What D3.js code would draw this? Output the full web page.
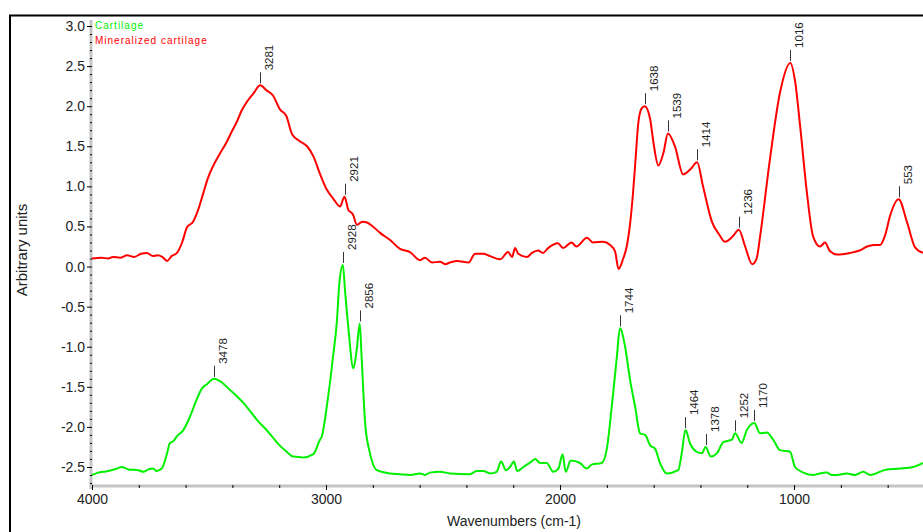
<!DOCTYPE html>
<html>
<head>
<meta charset="utf-8">
<script src="https://cdn.jsdelivr.net/npm/d3@7"></script>
<style>
  html, body { margin: 0; padding: 0; background: #fff; }
  svg { display: block; font-family: Arial, "Liberation Sans", sans-serif; }
</style>
</head>
<body>
<div id="chart"></div>
<script>
// Mineralized cartilage spectrum (wavenumber, arbitrary units)
const mineralized = [
  [4000,0.10],[3960,0.11],[3930,0.10],[3910,0.12],[3880,0.11],[3850,0.14],[3820,0.12],[3790,0.16],
  [3765,0.17],[3740,0.13],[3720,0.14],[3700,0.12],[3679,0.07],[3660,0.13],[3637,0.17],[3615,0.30],
  [3594,0.49],[3568,0.56],[3545,0.72],[3526,0.90],[3505,1.10],[3483,1.25],[3455,1.40],[3425,1.55],
  [3400,1.70],[3382,1.80],[3360,1.95],[3339,2.05],[3310,2.16],[3281,2.26],[3255,2.20],[3226,2.13],
  [3197,1.96],[3170,1.88],[3145,1.65],[3110,1.56],[3081,1.50],[3055,1.38],[3025,1.15],[2997,0.96],
  [2970,0.85],[2940,0.75],[2921,0.87],[2905,0.71],[2885,0.65],[2868,0.52],[2845,0.56],[2825,0.55],
  [2800,0.50],[2769,0.42],[2726,0.33],[2684,0.22],[2641,0.18],[2598,0.08],[2577,0.11],[2547,0.05],
  [2513,0.06],[2491,0.03],[2470,0.05],[2440,0.07],[2391,0.05],[2363,0.16],[2329,0.16],[2299,0.13],
  [2256,0.09],[2222,0.18],[2205,0.12],[2192,0.23],[2179,0.16],[2141,0.12],[2120,0.17],[2094,0.20],
  [2073,0.17],[2051,0.23],[2009,0.29],[1987,0.23],[1951,0.30],[1930,0.25],[1885,0.36],[1859,0.30],
  [1816,0.31],[1786,0.27],[1765,0.19],[1750,-0.03],[1730,0.10],[1715,0.25],[1700,0.55],[1688,0.92],
  [1677,1.35],[1667,1.75],[1652,1.97],[1638,2.00],[1615,1.84],[1601,1.55],[1580,1.26],[1558,1.42],
  [1539,1.66],[1509,1.50],[1474,1.15],[1444,1.21],[1414,1.30],[1389,1.00],[1350,0.55],[1320,0.40],
  [1295,0.31],[1261,0.38],[1236,0.46],[1209,0.25],[1179,0.03],[1160,0.10],[1145,0.38],[1103,1.34],
  [1060,2.17],[1016,2.54],[995,2.30],[974,1.75],[945,0.92],[919,0.38],[889,0.25],[868,0.30],
  [846,0.19],[816,0.15],[761,0.17],[720,0.20],[688,0.25],[660,0.27],[632,0.27],[610,0.40],
  [590,0.63],[553,0.84],[517,0.55],[483,0.24],[449,0.17]
];

// Cartilage spectrum
const cartilage = [
  [4000,-2.60],[3973,-2.57],[3950,-2.56],[3930,-2.55],[3894,-2.52],[3873,-2.50],[3845,-2.53],[3802,-2.54],
  [3781,-2.56],[3759,-2.53],[3738,-2.52],[3724,-2.55],[3702,-2.52],[3681,-2.35],[3667,-2.20],[3653,-2.18],
  [3638,-2.12],[3610,-2.04],[3581,-1.87],[3553,-1.66],[3530,-1.52],[3510,-1.47],[3478,-1.40],[3453,-1.43],
  [3410,-1.54],[3380,-1.62],[3353,-1.70],[3325,-1.80],[3296,-1.91],[3260,-2.02],[3225,-2.14],[3195,-2.24],
  [3168,-2.31],[3140,-2.37],[3097,-2.38],[3054,-2.34],[3026,-2.16],[3018,-2.12],[2997,-1.75],[2969,-1.10],
  [2954,-0.70],[2943,-0.21],[2928,0.02],[2919,-0.29],[2905,-0.75],[2883,-1.27],[2869,-1.04],[2856,-0.71],
  [2848,-1.12],[2833,-1.95],[2812,-2.33],[2783,-2.54],[2726,-2.58],[2684,-2.59],[2641,-2.60],[2598,-2.58],
  [2577,-2.60],[2556,-2.57],[2513,-2.56],[2470,-2.58],[2385,-2.59],[2356,-2.55],[2328,-2.55],[2299,-2.58],
  [2271,-2.56],[2252,-2.43],[2231,-2.54],[2214,-2.50],[2197,-2.43],[2183,-2.55],[2157,-2.50],[2121,-2.43],
  [2107,-2.40],[2085,-2.45],[2057,-2.45],[2029,-2.56],[2007,-2.52],[1989,-2.34],[1976,-2.56],[1954,-2.42],
  [1915,-2.45],[1886,-2.52],[1865,-2.47],[1822,-2.45],[1801,-2.29],[1779,-1.75],[1757,-1.12],[1744,-0.77],
  [1722,-1.00],[1701,-1.41],[1679,-1.75],[1658,-2.08],[1636,-2.10],[1615,-2.23],[1594,-2.27],[1573,-2.45],
  [1544,-2.58],[1495,-2.54],[1480,-2.33],[1464,-2.04],[1444,-2.21],[1416,-2.31],[1394,-2.33],[1378,-2.25],
  [1356,-2.37],[1330,-2.33],[1302,-2.19],[1266,-2.16],[1252,-2.08],[1224,-2.20],[1202,-2.04],[1170,-1.95],
  [1145,-2.08],[1117,-2.07],[1089,-2.16],[1060,-2.29],[1017,-2.31],[996,-2.50],[960,-2.57],[917,-2.60],
  [890,-2.58],[860,-2.57],[840,-2.60],[818,-2.60],[775,-2.58],[740,-2.60],[704,-2.56],[675,-2.60],
  [604,-2.53],[547,-2.52],[490,-2.50],[449,-2.45]
];

// labelled peaks (wavenumber)
const mineralizedPeaks = [3281, 2921, 1638, 1539, 1414, 1236, 1016, 553];
const cartilagePeaks = [3478, 2928, 2856, 1744, 1464, 1378, 1252, 1170];

const xTicks = [4000, 3000, 2000, 1000];
const yTicks = [-2.5, -2.0, -1.5, -1.0, -0.5, 0.0, 0.5, 1.0, 1.5, 2.0, 2.5, 3.0];

const W = 923, H = 532;
const svg = d3.select("#chart").append("svg")
    .attr("width", W)
    .attr("height", H);

const x = d3.scaleLinear().domain([4000, 449]).range([92, 923]);
const y = d3.scaleLinear().domain([-2.5, 3.0]).range([467, 26]);
const axisY = 486;

// outer frame (only top and left are visible)
svg.append("path")
    .attr("d", `M10,${H} V15.5 H${W}`)
    .attr("fill", "none")
    .attr("stroke", "#000")
    .attr("stroke-width", 2);

// gray axis bands
svg.append("line")
    .attr("x1", 91).attr("x2", 91).attr("y1", 20).attr("y2", axisY + 3)
    .attr("stroke", "#c4c4c4").attr("stroke-width", 3);
svg.append("line")
    .attr("x1", 90).attr("x2", W).attr("y1", axisY).attr("y2", axisY)
    .attr("stroke", "#c4c4c4").attr("stroke-width", 3);

// y minor ticks
const yMinor = d3.range(-27, 31).map(d => d / 10).filter(d => Math.abs(d * 2 - Math.round(d * 2)) > 0.01);
svg.append("g")
    .attr("transform", "translate(92,0)")
    .call(d3.axisLeft(y).tickValues(yMinor).tickSize(2).tickFormat(""))
    .call(g => g.select(".domain").remove())
    .call(g => g.selectAll("line").attr("stroke", "#000"));

// y major ticks
svg.append("g")
    .attr("transform", "translate(92,0)")
    .call(d3.axisLeft(y).tickValues(yTicks).tickSize(5).tickPadding(2).tickFormat(d => d.toFixed(1)))
    .call(g => g.select(".domain").remove())
    .call(g => g.selectAll("line").attr("stroke", "#000"))
    .call(g => g.selectAll("text")
        .attr("fill", "#222")
        .style("font-size", "14px")
        .style("font-family", "Arial, 'Liberation Sans', sans-serif"));

// x minor ticks
const xMinor = d3.range(3800, 449, -200).filter(d => d % 1000 !== 0);
svg.append("g")
    .attr("transform", `translate(0,${axisY - 1})`)
    .call(d3.axisBottom(x).tickValues(xMinor).tickSize(3).tickFormat(""))
    .call(g => g.select(".domain").remove())
    .call(g => g.selectAll("line").attr("stroke", "#000"));

// x major ticks
svg.append("g")
    .attr("transform", `translate(0,${axisY - 1})`)
    .call(d3.axisBottom(x).tickValues(xTicks).tickSize(5).tickPadding(4).tickFormat(d3.format("d")))
    .call(g => g.select(".domain").remove())
    .call(g => g.selectAll("line").attr("stroke", "#000"))
    .call(g => g.selectAll("text")
        .attr("fill", "#222")
        .style("font-size", "14px")
        .style("font-family", "Arial, 'Liberation Sans', sans-serif"));

// axis titles
svg.append("text")
    .attr("x", 514)
    .attr("y", 526)
    .attr("text-anchor", "middle")
    .attr("fill", "#222")
    .style("font-size", "14px")
    .text("Wavenumbers (cm-1)");

svg.append("text")
    .attr("transform", "translate(27,250) rotate(-90)")
    .attr("text-anchor", "middle")
    .attr("fill", "#222")
    .style("font-size", "15px")
    .text("Arbitrary units");

// spectra
const line = d3.line()
    .curve(d3.curveMonotoneX)
    .x(d => x(d[0]))
    .y(d => y(d[1]));

const series = [
    { data: mineralized, peaks: mineralizedPeaks, color: "#ff0000" },
    { data: cartilage, peaks: cartilagePeaks, color: "#00f000" }
];

series.forEach(s => {
    svg.append("path")
        .datum(s.data)
        .attr("fill", "none")
        .attr("stroke", s.color)
        .attr("stroke-width", 2)
        .attr("stroke-linejoin", "round")
        .attr("d", line);

    const peakData = s.peaks.map(p => s.data.find(d => d[0] === p));
    const g = svg.append("g").selectAll("g")
        .data(peakData)
        .join("g")
        .attr("transform", d => `translate(${Math.round(x(d[0])) + 0.5},${y(d[1])})`);

    g.append("line")
        .attr("y1", -2).attr("y2", -13)
        .attr("stroke", "#333")
        .attr("stroke-width", 1);

    g.append("text")
        .attr("transform", "translate(12,-15) rotate(-90)")
        .attr("fill", "#222")
        .style("font-size", "11.5px")
        .text(d => d[0]);
});

// legend
const legend = [
    { name: "Cartilage", color: "#00f000" },
    { name: "Mineralized cartilage", color: "#ff0000" }
];
svg.append("g").selectAll("text")
    .data(legend)
    .join("text")
    .attr("x", 95)
    .attr("y", (d, i) => 29 + i * 15)
    .attr("fill", d => d.color)
    .style("font-size", "10px")
    .style("letter-spacing", "1px")
    .text(d => d.name);
</script>
</body>
</html>
